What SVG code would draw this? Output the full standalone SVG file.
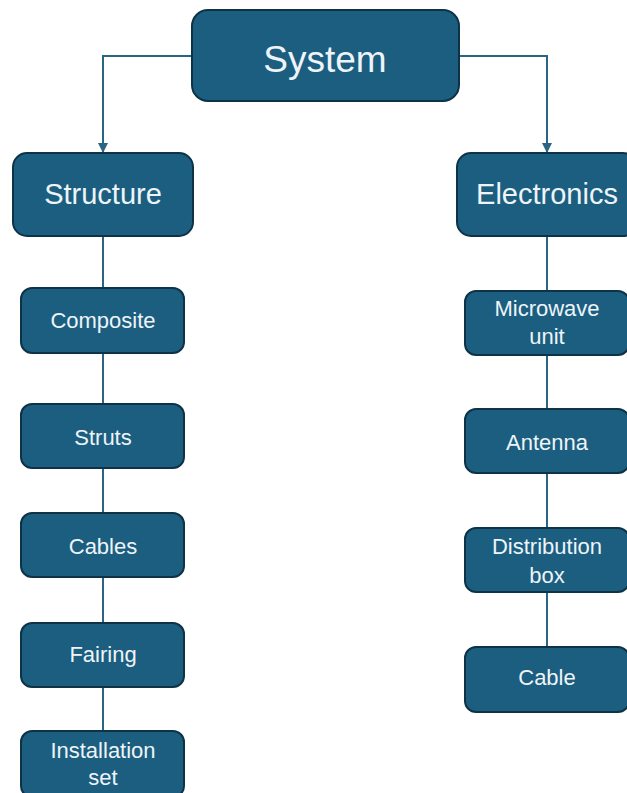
<svg xmlns="http://www.w3.org/2000/svg" width="627" height="793" viewBox="0 0 627 793">
<defs>
<marker id="arr" viewBox="0 0 10 10" refX="9" refY="5" markerWidth="5" markerHeight="5" orient="auto" markerUnits="strokeWidth">
<path d="M0,0 L10,5 L0,10 z" fill="#2a6585"/>
</marker>
</defs>
<style>
.box{fill:#1b5e80;stroke:#0e3347;stroke-width:2}
.t{fill:#eef4f8;text-anchor:middle}
.big{font-size:29px}
.sm{font-size:22px}
.con{fill:none;stroke:#2a6585;stroke-width:2}
</style>
<rect width="627" height="793" fill="#ffffff"/>
<g id="connectors">
<path class="con" d="M192,56 H103 V152" marker-end="url(#arr)"/>
<path class="con" d="M459,56 H547 V152" marker-end="url(#arr)"/>
<path class="con" d="M103,236 V288"/>
<path class="con" d="M103,353 V404"/>
<path class="con" d="M103,468 V513"/>
<path class="con" d="M103,577 V623"/>
<path class="con" d="M103,687 V731"/>
<path class="con" d="M547,236 V291"/>
<path class="con" d="M547,355 V409"/>
<path class="con" d="M547,473 V528"/>
<path class="con" d="M547,592 V647"/>
</g>
<g font-family="'Liberation Sans', Arial, Helvetica, sans-serif">
<g id="system"><rect class="box" x="192" y="10" width="267" height="91" rx="16"/><text class="t" x="325" y="72" font-size="37">System</text></g>
<g id="structure"><rect class="box" x="13" y="153" width="180" height="83" rx="14"/><text class="t big" x="103" y="204">Structure</text></g>
<g id="electronics"><rect class="box" x="457" y="153" width="180" height="83" rx="14"/><text class="t big" x="547" y="204">Electronics</text></g>
<g id="composite"><rect class="box" x="21" y="288" width="163" height="65" rx="11"/><text class="t sm" x="103" y="328">Composite</text></g>
<g id="struts"><rect class="box" x="21" y="404" width="163" height="64" rx="11"/><text class="t sm" x="103" y="445">Struts</text></g>
<g id="cables"><rect class="box" x="21" y="513" width="163" height="64" rx="11"/><text class="t sm" x="103" y="554">Cables</text></g>
<g id="fairing"><rect class="box" x="21" y="623" width="163" height="64" rx="11"/><text class="t sm" x="103" y="662">Fairing</text></g>
<g id="installation-set"><rect class="box" x="21" y="731" width="163" height="66" rx="11"/><text class="t sm" x="103" y="758">Installation</text><text class="t sm" x="103" y="785">set</text></g>
<g id="microwave-unit"><rect class="box" x="465" y="291" width="164" height="64" rx="11"/><text class="t sm" x="547" y="316">Microwave</text><text class="t sm" x="547" y="344">unit</text></g>
<g id="antenna"><rect class="box" x="465" y="409" width="164" height="64" rx="11"/><text class="t sm" x="547" y="450">Antenna</text></g>
<g id="distribution-box"><rect class="box" x="465" y="528" width="164" height="64" rx="11"/><text class="t sm" x="547" y="554">Distribution</text><text class="t sm" x="547" y="583">box</text></g>
<g id="cable"><rect class="box" x="465" y="647" width="164" height="65" rx="11"/><text class="t sm" x="547" y="685">Cable</text></g>
</g>
</svg>
